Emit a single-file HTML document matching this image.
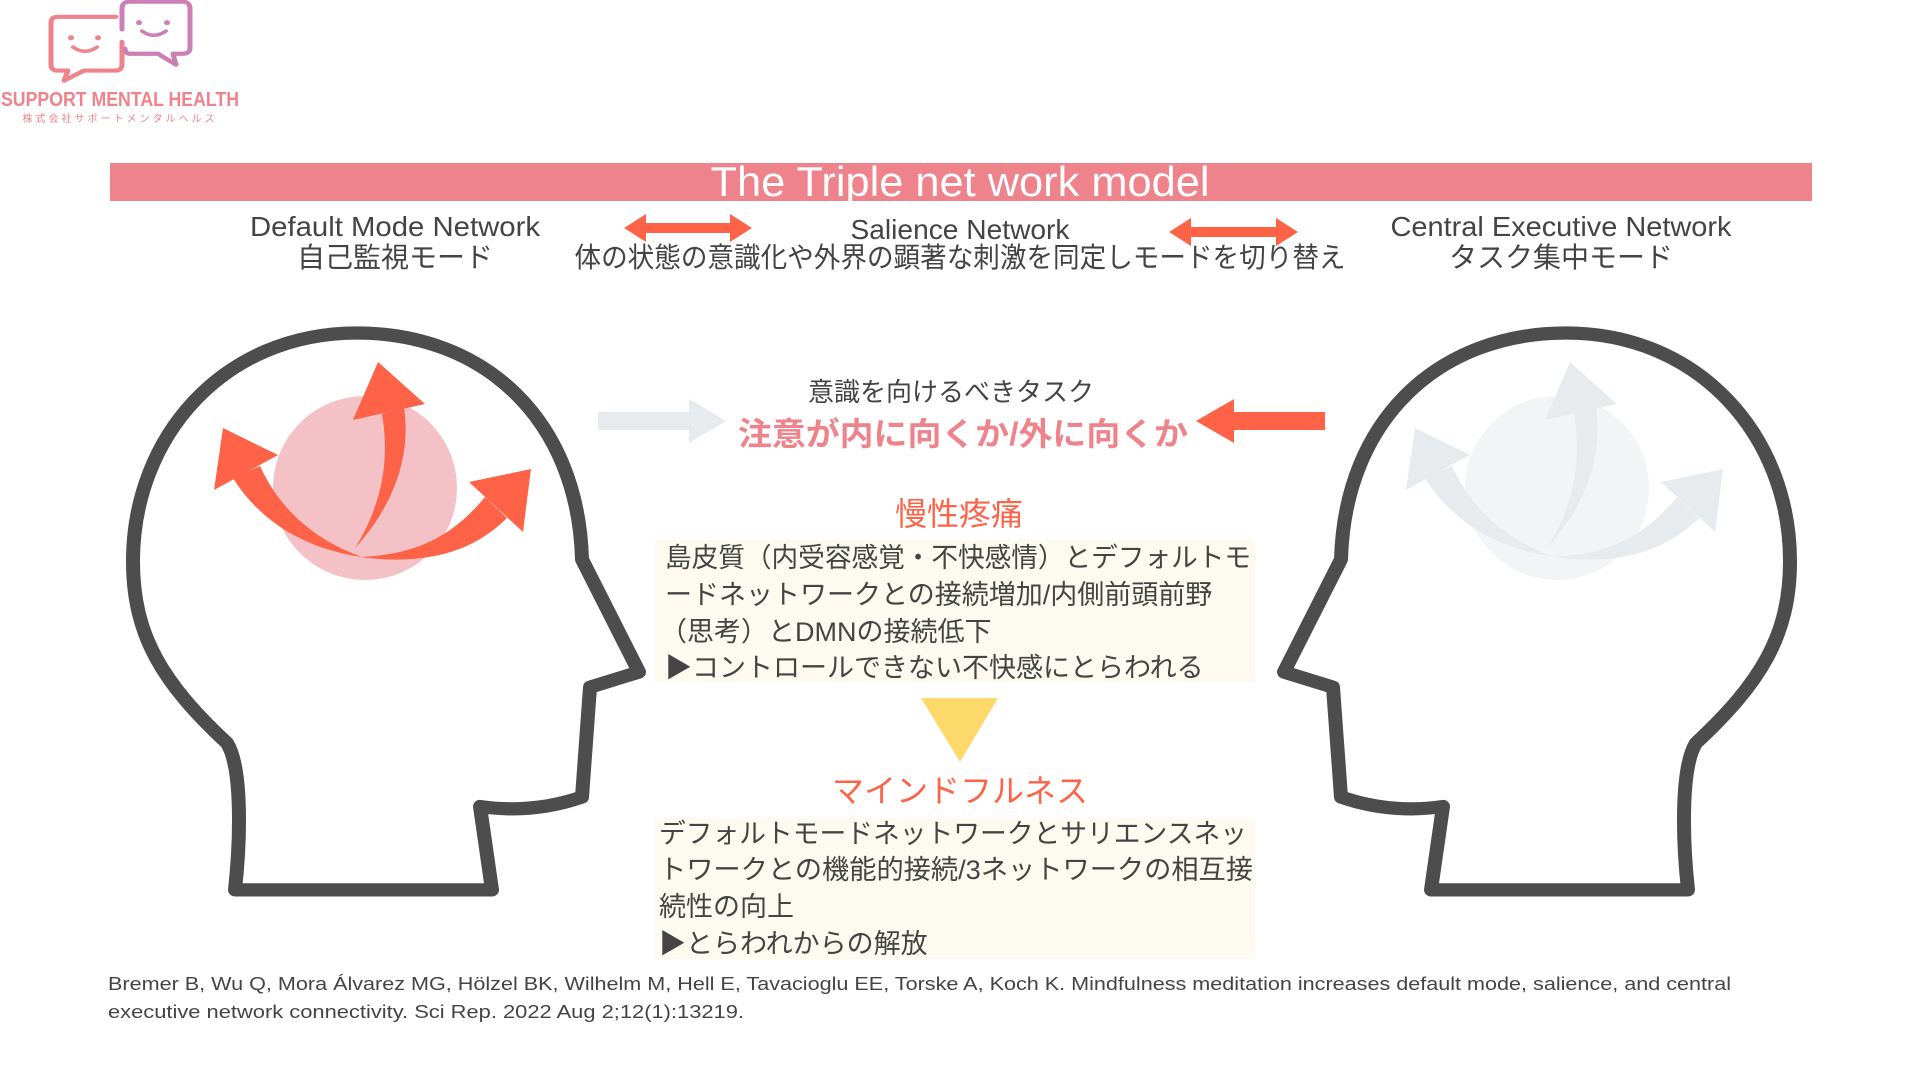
<!DOCTYPE html>
<html><head><meta charset="utf-8"><style>
html,body{margin:0;padding:0;background:#fff;}
svg{display:block;}
text{font-family:"Liberation Sans","Noto Sans CJK JP",sans-serif;}
</style></head><body>
<svg width="1920" height="1080" viewBox="0 0 1920 1080" xmlns="http://www.w3.org/2000/svg">
<!-- logo -->
<g fill="none" stroke-linecap="round" stroke-linejoin="round" transform="scale(1,0.84)">
 <path d="M116,20 L58,20 Q51,20 51,27 L51,77 Q51,84 58,84 L68,84 L64,96 L84,84 L115,84 Q122,84 122,77 L122,50" stroke="#ee838c" stroke-width="5"/>
 <path d="M122,35 L122,10 Q122,2 130,2 L182,2 Q190,2 190,10 L190,57 Q190,64 182,64 L173,64 L176,77 L158,64 L130,64 Q125,64 125,58" stroke="#cc7fb5" stroke-width="5"/>
 <circle cx="71" cy="45" r="3" fill="#ee838c" stroke="none"/>
 <circle cx="98" cy="45" r="3" fill="#ee838c" stroke="none"/>
 <path d="M73,56 Q85,66 97,56" stroke="#ee838c" stroke-width="4"/>
 <circle cx="139" cy="27" r="3" fill="#cc7fb5" stroke="none"/>
 <circle cx="167" cy="27" r="3" fill="#cc7fb5" stroke="none"/>
 <path d="M142,37 Q154,47 166,37" stroke="#cc7fb5" stroke-width="4"/>
</g>
<text x="120" y="106" font-size="20" font-weight="bold" fill="#ee838c" text-anchor="middle" textLength="238" lengthAdjust="spacingAndGlyphs">SUPPORT MENTAL HEALTH</text>
<text x="120" y="122" font-size="10" fill="#ee838c" text-anchor="middle" letter-spacing="3">株式会社サポートメンタルヘルス</text>

<!-- title bar -->
<rect x="110" y="163" width="1702" height="38" fill="#ee838c"/>
<text x="960" y="196" font-size="42" fill="#fff" text-anchor="middle" textLength="499" lengthAdjust="spacingAndGlyphs">The Triple net work model</text>

<!-- headers -->
<g fill="#444" font-size="28" text-anchor="middle">
 <text x="395" y="236" textLength="290" lengthAdjust="spacingAndGlyphs">Default Mode Network</text>
 <text x="395" y="267">自己監視モード</text>
 <text x="960" y="239" textLength="219" lengthAdjust="spacingAndGlyphs">Salience Network</text>
 <text x="960" y="267" textLength="771" lengthAdjust="spacingAndGlyphs">体の状態の意識化や外界の顕著な刺激を同定しモードを切り替え</text>
 <text x="1561" y="236" textLength="341" lengthAdjust="spacingAndGlyphs">Central Executive Network</text>
 <text x="1561" y="267">タスク集中モード</text>
</g>
<!-- double arrows -->
<g fill="#ff6347">
 <path d="M624,228 L646,214 L646,223 L730,223 L730,214 L752,228 L730,242 L730,233 L646,233 L646,242 Z"/>
 <path d="M1169,232 L1191,218 L1191,227 L1276,227 L1276,218 L1298,232 L1276,246 L1276,237 L1191,237 L1191,246 Z"/>
</g>

<!-- heads -->
<g transform="translate(0,333) scale(1,0.947) translate(0,-340)">
<g fill="none" stroke="#4d4d4d" stroke-width="14" stroke-linejoin="round">
 <path d="M1431,928 L1443,840 Q1390,848 1341,830 L1333,714 L1284,698 L1341,579 C1345,430 1440,340 1566,340 C1700,340 1790,450 1790,581 C1790,660 1760,710 1696,773 C1680,800 1683,880 1688,928 Z"/>
 <path d="M1431,928 L1443,840 Q1390,848 1341,830 L1333,714 L1284,698 L1341,579 C1345,430 1440,340 1566,340 C1700,340 1790,450 1790,581 C1790,660 1760,710 1696,773 C1680,800 1683,880 1688,928 Z" transform="translate(1923,0) scale(-1,1)"/>
</g>
</g>

<!-- left brain -->
<g>
 <ellipse cx="365" cy="488" rx="92" ry="92" fill="#f4c2c6"/>
 <g fill="#ff6347">
  <path d="M355,548 C390,510 412,460 404,408 L382,414 C390,460 382,505 355,548 Z"/>
  <path d="M353,420 L378,362 L425,404 Z"/>
  <path d="M362,557 C300,548 258,518 233,478 L260,466 C280,510 315,540 362,557 Z"/>
  <path d="M223,428 L214,490 L278,455 Z"/>
  <path d="M360,557 C420,565 470,555 507,518 L485,497 C450,540 410,555 360,557 Z"/>
  <path d="M469,482 L531,469 L523,532 Z"/>
 </g>
</g>
<!-- right brain (gray) -->
<g transform="translate(1192,0)">
 <ellipse cx="365" cy="488" rx="92" ry="92" fill="#f3f4f6"/>
 <g fill="#e8ebee">
  <path d="M355,548 C390,510 412,460 404,408 L382,414 C390,460 382,505 355,548 Z"/>
  <path d="M353,420 L378,362 L425,404 Z"/>
  <path d="M362,557 C300,548 258,518 233,478 L260,466 C280,510 315,540 362,557 Z"/>
  <path d="M223,428 L214,490 L278,455 Z"/>
  <path d="M360,557 C420,565 470,555 507,518 L485,497 C450,540 410,555 360,557 Z"/>
  <path d="M469,482 L531,469 L523,532 Z"/>
 </g>
</g>

<!-- center arrows -->
<path d="M598,412 L689,412 L689,399 L726,421 L689,443 L689,430 L598,430 Z" fill="#e8ebee"/>
<path d="M1325,412 L1234,412 L1234,399 L1196,421 L1234,443 L1234,430 L1325,430 Z" fill="#ff6347"/>

<text x="951" y="401" font-size="26" fill="#444" text-anchor="middle">意識を向けるべきタスク</text>
<text x="963" y="445" font-size="32" font-weight="bold" fill="#ee838c" text-anchor="middle" textLength="450" lengthAdjust="spacingAndGlyphs">注意が内に向くか/外に向くか</text>

<text x="959" y="525" font-size="32" fill="#ff6347" text-anchor="middle">慢性疼痛</text>
<rect x="655" y="540" width="600" height="143" fill="#fdfbef"/>
<g font-size="27" fill="#444">
 <text x="665" y="567" textLength="586" lengthAdjust="spacingAndGlyphs">島皮質（内受容感覚・不快感情）とデフォルトモ</text>
 <text x="665" y="604">ードネットワークとの接続増加/内側前頭前野</text>
 <text x="660" y="641">（思考）とDMNの接続低下</text>
 <text x="665" y="677">▶コントロールできない不快感にとらわれる</text>
</g>

<path d="M921,698 L998,698 L960,762 Z" fill="#fdd96b"/>

<text x="960" y="802" font-size="32" fill="#ff6347" text-anchor="middle">マインドフルネス</text>
<rect x="655" y="818" width="600" height="141" fill="#fdfbef"/>
<g font-size="27" fill="#444">
 <text x="659" y="843" textLength="588" lengthAdjust="spacingAndGlyphs">デフォルトモードネットワークとサリエンスネッ</text>
 <text x="659" y="879" textLength="594" lengthAdjust="spacingAndGlyphs">トワークとの機能的接続/3ネットワークの相互接</text>
 <text x="659" y="916">続性の向上</text>
 <text x="659" y="953">▶とらわれからの解放</text>
</g>

<g font-size="18" fill="#444">
 <text x="108" y="990" textLength="1623" lengthAdjust="spacingAndGlyphs">Bremer B, Wu Q, Mora Álvarez MG, Hölzel BK, Wilhelm M, Hell E, Tavacioglu EE, Torske A, Koch K. Mindfulness meditation increases default mode, salience, and central</text>
 <text x="108" y="1018" textLength="636" lengthAdjust="spacingAndGlyphs">executive network connectivity. Sci Rep. 2022 Aug 2;12(1):13219.</text>
</g>
</svg>
</body></html>
